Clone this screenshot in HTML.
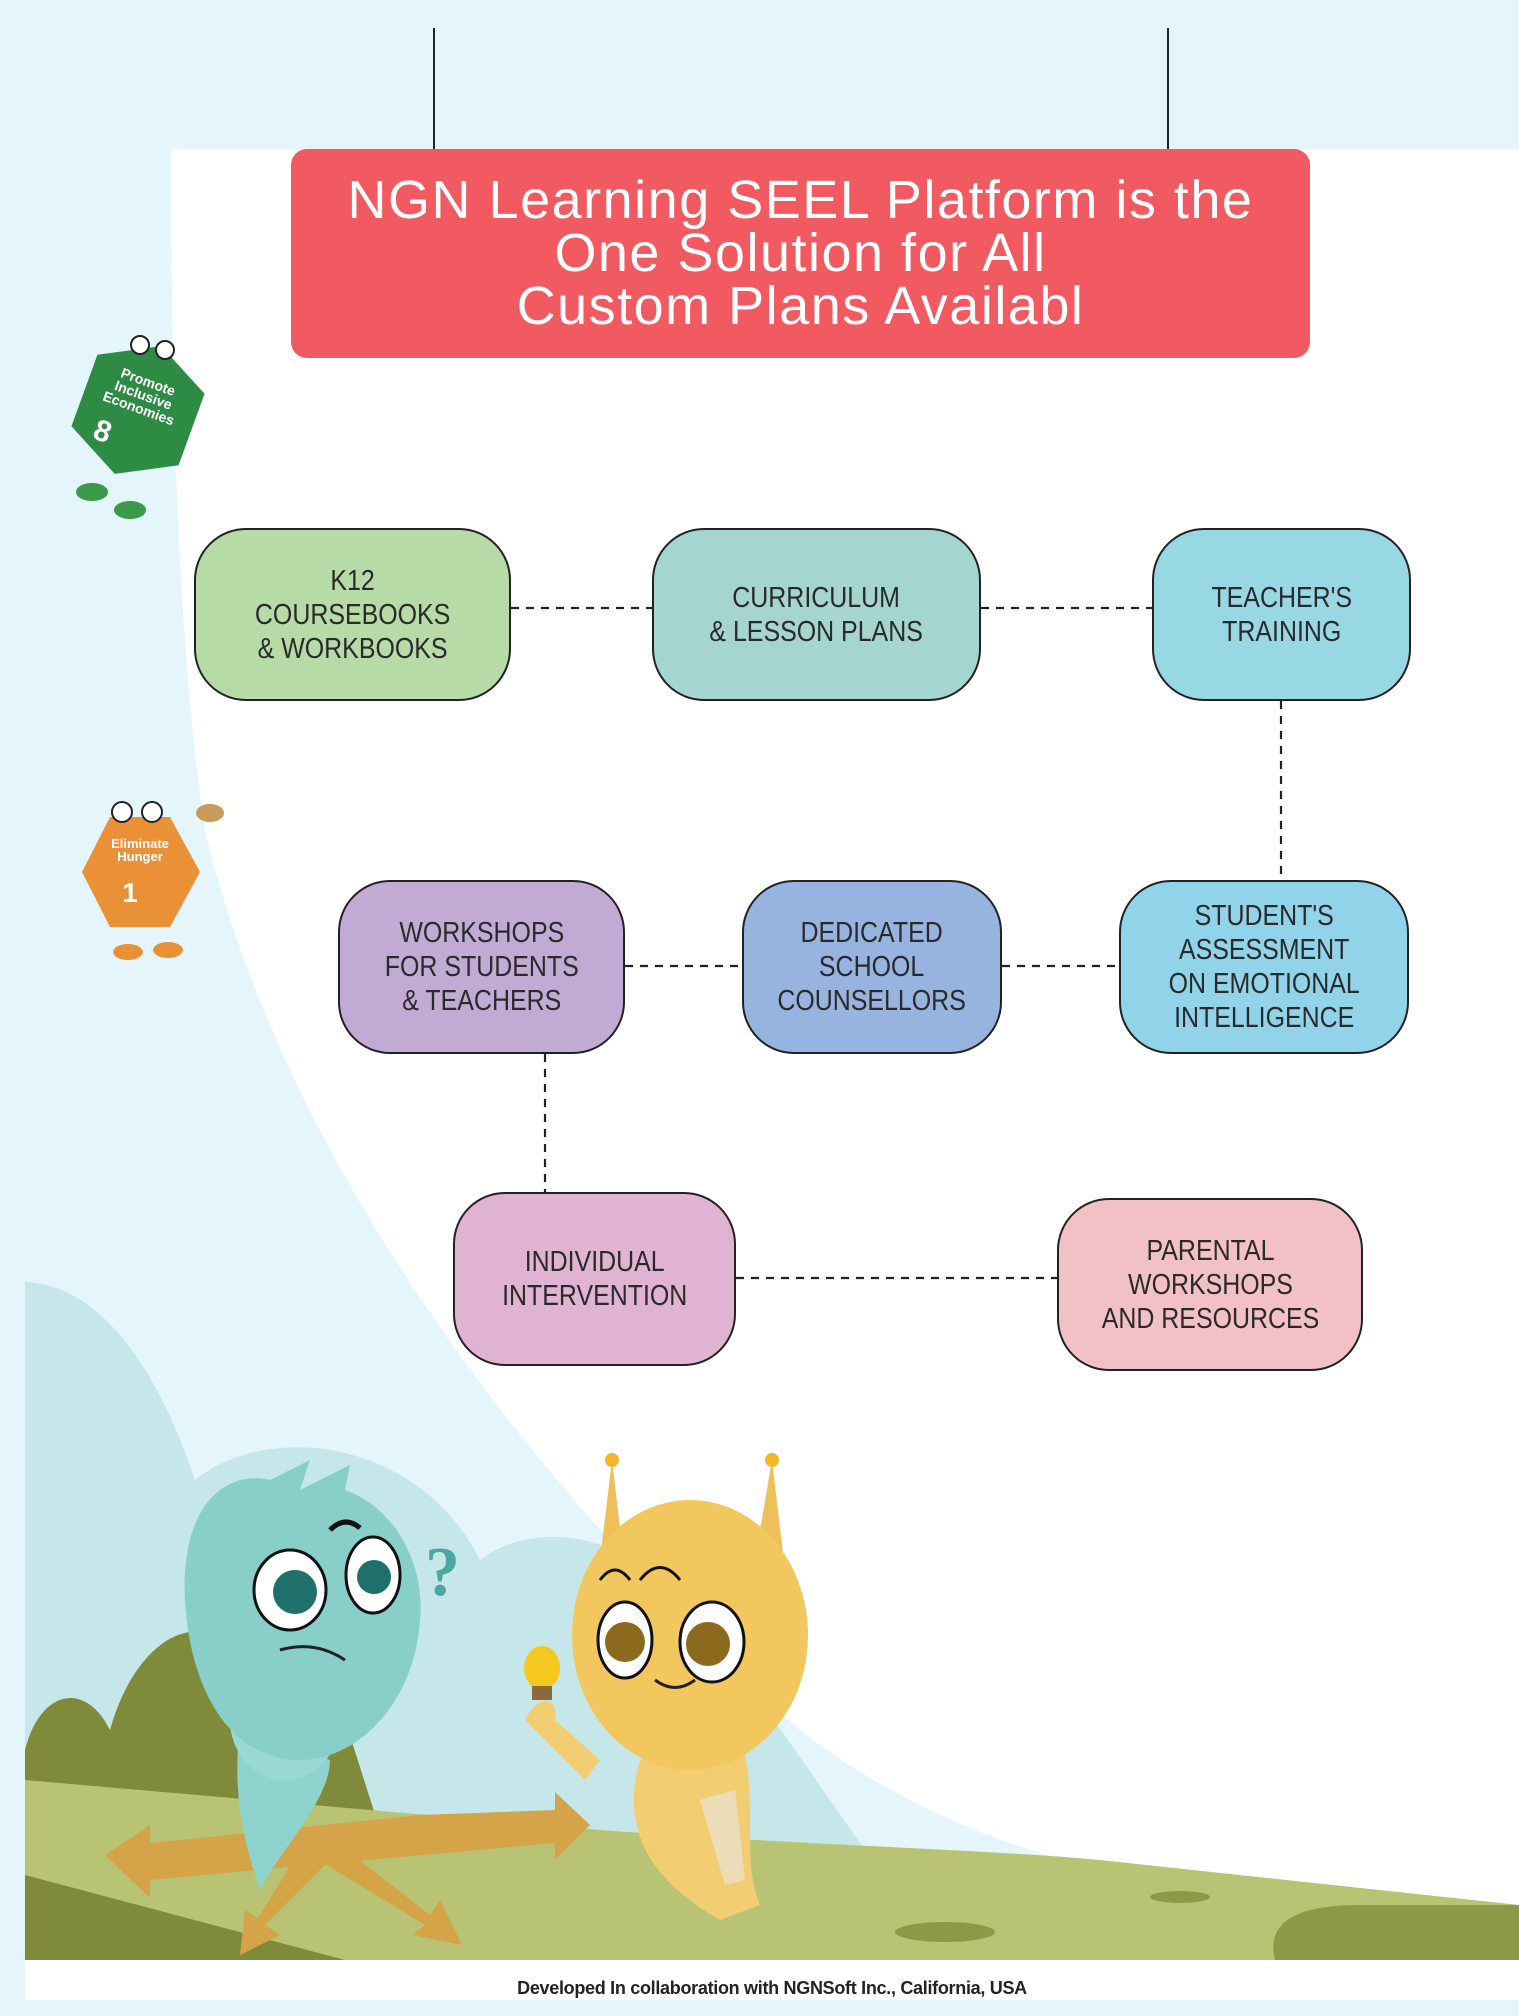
<!DOCTYPE html>
<html><head><meta charset="utf-8"><style>
html,body{margin:0;padding:0;width:1519px;height:2000px;overflow:hidden;background:#e5f5fc}
svg{position:absolute;left:0;top:0}
.box{position:absolute;box-sizing:border-box;border:2.5px solid #222;border-radius:52px;display:flex;align-items:center;justify-content:center;text-align:center;font-family:"Liberation Sans",sans-serif;font-size:29px;line-height:34px;color:#2a2a2a}
.box span{display:inline-block;transform:scaleX(0.86);white-space:nowrap}
.title{position:absolute;left:291px;top:149px;width:1019px;height:209px;background:#f05a60;border-radius:16px;color:#fff;font-family:"Liberation Sans",sans-serif;font-size:54px;letter-spacing:1.5px;line-height:53px;text-align:center;display:flex;align-items:center;justify-content:center;white-space:nowrap}
.foot{position:absolute;left:25px;top:1960px;width:1494px;height:40px;background:#fff;text-align:center;font-family:"Liberation Sans",sans-serif;font-weight:bold;font-size:18px;line-height:56px;color:#222;letter-spacing:-0.3px}
</style></head><body>
<svg width="1519" height="2000" viewBox="0 0 1519 2000">
<path d="M25,1282 C110,1285 165,1390 195,1480 C270,1420 420,1440 480,1560 C560,1500 700,1560 760,1700 L900,1900 L25,1900 Z" fill="#c6e7e9"/>
<path d="M171,149 L1519,149 L1519,1910 C1200,1905 980,1870 800,1730 C520,1480 280,1150 205,830 C178,650 171,400 171,149 Z" fill="#fff"/>
<line x1="434" y1="28" x2="434" y2="149" stroke="#222" stroke-width="2"/>
<line x1="1168" y1="28" x2="1168" y2="149" stroke="#222" stroke-width="2"/>
<g stroke="#222" stroke-width="2.2" stroke-dasharray="8,7" fill="none">
<line x1="511" y1="608" x2="652" y2="608"/>
<line x1="981" y1="608" x2="1152" y2="608"/>
<line x1="1281" y1="701" x2="1281" y2="880"/>
<line x1="625" y1="966" x2="742" y2="966"/>
<line x1="1002" y1="966" x2="1119" y2="966"/>
<line x1="545" y1="1054" x2="545" y2="1192"/>
<line x1="736" y1="1278" x2="1057" y2="1278"/>
</g>
<path d="M25,1750 C40,1690 85,1680 110,1730 C135,1640 200,1600 245,1660 C280,1640 330,1660 345,1720 L380,1830 L25,1860 Z" fill="#7f8b3b"/>
<path d="M25,1780 L600,1830 C800,1845 1000,1850 1100,1860 L1519,1905 L1519,1960 L25,1960 Z" fill="#b8c474"/>
<path d="M25,1875 L25,1960 L345,1960 Z" fill="#7f8b3b"/>
<path d="M1275,1960 C1265,1920 1300,1905 1360,1905 L1519,1905 L1519,1960 Z" fill="#8a9a47"/>
<ellipse cx="945" cy="1932" rx="50" ry="10" fill="#8a9a47"/>
<ellipse cx="1180" cy="1897" rx="30" ry="6" fill="#8a9a47"/>
<g fill="#d6a448">
<path d="M105,1855 L150,1825 L150,1843 L420,1815 L555,1810 L555,1792 L590,1825 L555,1860 L555,1843 L150,1880 L150,1898 Z"/>
<path d="M300,1850 L330,1860 L265,1925 L280,1935 L240,1955 L245,1910 L258,1918 Z"/>
<path d="M310,1855 L340,1845 L430,1915 L440,1900 L462,1945 L412,1935 L425,1925 Z"/>
</g>
<path d="M240,1730 C230,1800 250,1860 260,1890 C280,1850 330,1800 330,1760 Z" fill="#8fd3cf"/>
<ellipse cx="285" cy="1720" rx="55" ry="60" fill="#9ad8d3"/>
<path d="M185,1600 C180,1500 230,1470 270,1480 L310,1460 L300,1490 L350,1465 L345,1490 C400,1510 425,1570 420,1620 C415,1700 360,1760 300,1760 C230,1760 190,1690 185,1600 Z" fill="#89cfc9"/>
<ellipse cx="290" cy="1590" rx="36" ry="40" fill="#fff" stroke="#111" stroke-width="3"/>
<circle cx="295" cy="1592" r="22" fill="#1f6f6b"/>
<ellipse cx="373" cy="1575" rx="27" ry="38" fill="#fff" stroke="#111" stroke-width="3"/>
<circle cx="374" cy="1577" r="17" fill="#1f6f6b"/>
<path d="M280,1650 Q315,1640 345,1660" stroke="#222" stroke-width="3" fill="none"/>
<path d="M330,1530 Q345,1515 360,1528" stroke="#111" stroke-width="5" fill="none"/>
<text x="425" y="1595" font-family="Liberation Serif,serif" font-size="70" fill="#4aa7a1" font-weight="bold">?</text>
<path d="M640,1760 C620,1830 650,1880 720,1920 L760,1905 C740,1860 760,1790 740,1740 Z" fill="#f3cd72"/>
<path d="M600,1560 L612,1460 L625,1570 Z M755,1560 L772,1460 L785,1570 Z" fill="#eec05a"/>
<circle cx="612" cy="1460" r="7" fill="#f2b62a"/><circle cx="772" cy="1460" r="7" fill="#f2b62a"/>
<ellipse cx="690" cy="1635" rx="118" ry="135" fill="#f1c75e"/>
<ellipse cx="625" cy="1640" rx="27" ry="38" fill="#fff" stroke="#111" stroke-width="3"/>
<circle cx="625" cy="1642" r="20" fill="#8b6a1e"/>
<ellipse cx="712" cy="1642" rx="32" ry="40" fill="#fff" stroke="#111" stroke-width="3"/>
<circle cx="708" cy="1644" r="22" fill="#8b6a1e"/>
<path d="M655,1680 Q675,1695 695,1680" stroke="#222" stroke-width="3" fill="none"/>
<path d="M600,1580 Q615,1560 630,1580 M640,1580 Q660,1555 680,1580" stroke="#111" stroke-width="3" fill="none"/>
<path d="M525,1720 C540,1690 560,1700 555,1720 L600,1760 L585,1780 Z" fill="#f3cd72"/>
<ellipse cx="542" cy="1668" rx="18" ry="22" fill="#f4c81f"/>
<rect x="532" y="1686" width="20" height="14" fill="#8a6a3a"/>
<path d="M700,1800 L735,1790 L745,1880 L725,1885 Z" fill="#ecdcb8"/>
<g transform="rotate(20 138 410)">
<polygon points="138,342 195,372 195,448 138,478 81,448 81,372" fill="#2e8b44"/>
<text x="138" y="385" font-family="Liberation Sans,sans-serif" font-weight="bold" font-size="14" fill="#fff" text-anchor="middle">Promote</text>
<text x="138" y="399" font-family="Liberation Sans,sans-serif" font-weight="bold" font-size="14" fill="#fff" text-anchor="middle">Inclusive</text>
<text x="138" y="413" font-family="Liberation Sans,sans-serif" font-weight="bold" font-size="14" fill="#fff" text-anchor="middle">Economies</text>
<text x="112" y="452" font-family="Liberation Sans,sans-serif" font-weight="bold" font-size="30" fill="#fff" text-anchor="middle">8</text>
</g>
<circle cx="140" cy="345" r="9" fill="#fff" stroke="#222" stroke-width="2"/><circle cx="165" cy="350" r="9" fill="#fff" stroke="#222" stroke-width="2"/>
<ellipse cx="92" cy="492" rx="16" ry="9" fill="#3a9a48"/><ellipse cx="130" cy="510" rx="16" ry="9" fill="#3a9a48"/>
<polygon points="110,817 170,817 200,872 170,927 110,927 82,872" fill="#ea9138"/>
<text x="140" y="848" font-family="Liberation Sans,sans-serif" font-weight="bold" font-size="13" fill="#fff" text-anchor="middle">Eliminate</text>
<text x="140" y="861" font-family="Liberation Sans,sans-serif" font-weight="bold" font-size="13" fill="#fff" text-anchor="middle">Hunger</text>
<text x="130" y="902" font-family="Liberation Sans,sans-serif" font-weight="bold" font-size="28" fill="#fff" text-anchor="middle">1</text>
<circle cx="122" cy="812" r="10" fill="#fff" stroke="#222" stroke-width="2"/><circle cx="152" cy="812" r="10" fill="#fff" stroke="#222" stroke-width="2"/>
<ellipse cx="128" cy="952" rx="15" ry="8" fill="#ea9138"/><ellipse cx="168" cy="950" rx="15" ry="8" fill="#ea9138"/>
<ellipse cx="210" cy="813" rx="14" ry="9" fill="#c99a5a"/>
</svg>
<div class="title"><div>NGN Learning SEEL Platform is the<br>One Solution for All<br>Custom Plans Availabl</div></div>
<div class="box" style="left:194px;top:528px;width:317px;height:173px;background:#b7dba7"><span>K12<br>COURSEBOOKS<br>&amp; WORKBOOKS</span></div>
<div class="box" style="left:652px;top:528px;width:329px;height:173px;background:#a5d5cf"><span>CURRICULUM<br>&amp; LESSON PLANS</span></div>
<div class="box" style="left:1152px;top:528px;width:259px;height:173px;background:#98d8e4"><span>TEACHER'S<br>TRAINING</span></div>
<div class="box" style="left:338px;top:880px;width:287px;height:174px;background:#c1abd5"><span>WORKSHOPS<br>FOR STUDENTS<br>&amp; TEACHERS</span></div>
<div class="box" style="left:742px;top:880px;width:260px;height:174px;background:#96b4df"><span>DEDICATED<br>SCHOOL<br>COUNSELLORS</span></div>
<div class="box" style="left:1119px;top:880px;width:290px;height:174px;background:#91d4ea"><span>STUDENT'S<br>ASSESSMENT<br>ON EMOTIONAL<br>INTELLIGENCE</span></div>
<div class="box" style="left:453px;top:1192px;width:283px;height:174px;background:#e0b3d3"><span>INDIVIDUAL<br>INTERVENTION</span></div>
<div class="box" style="left:1057px;top:1198px;width:306px;height:173px;background:#f2c1c6"><span>PARENTAL<br>WORKSHOPS<br>AND RESOURCES</span></div>
<div class="foot">Developed In collaboration with NGNSoft Inc., California, USA</div>
</body></html>
